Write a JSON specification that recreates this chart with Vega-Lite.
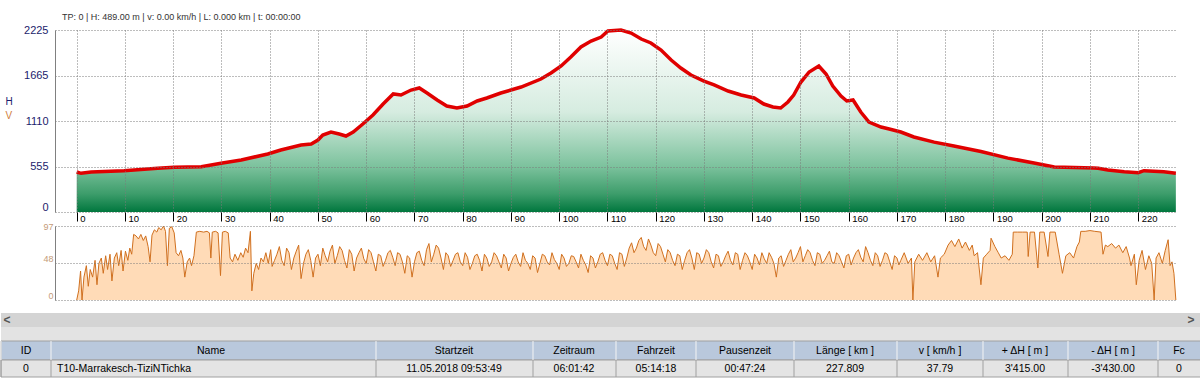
{
  "$schema": "https://vega.github.io/schema/vega-lite/v6.json",
  "background": "white",
  "padding": {"left": 0, "top": 13, "right": 0, "bottom": 0},
  "bounds": "flush",
  "spacing": 14,
  "config": {"view": {"stroke": null}, "font": "Liberation Sans"},
  "datasets": {
    "elev": [
      {"km":0,"h":489},{"km":0.9,"h":473},{"km":3.0,"h":489},{"km":9.8,"h":505},{"km":16.8,"h":534},{"km":20.2,"h":546},{"km":25.8,"h":554},{"km":29.9,"h":595},{"km":34.1,"h":636},{"km":39.6,"h":709},{"km":42.3,"h":758},{"km":46.5,"h":819},{"km":48.6,"h":831},{"km":50.0,"h":880},{"km":51.0,"h":940},{"km":52.7,"h":978},{"km":54.4,"h":954},{"km":55.8,"h":929},{"km":57.3,"h":978},{"km":59.3,"h":1076},{"km":61.4,"h":1186},{"km":63.5,"h":1320},{"km":65.6,"h":1443},{"km":67.2,"h":1430},{"km":69.3,"h":1491},{"km":71.0,"h":1516},{"km":72.6,"h":1455},{"km":74.7,"h":1369},{"km":76.7,"h":1296},{"km":78.8,"h":1271},{"km":80.9,"h":1296},{"km":83.0,"h":1357},{"km":85.0,"h":1394},{"km":87.9,"h":1455},{"km":90.0,"h":1491},{"km":92.1,"h":1528},{"km":96.2,"h":1626},{"km":98.3,"h":1699},{"km":100.4,"h":1785},{"km":102.4,"h":1895},{"km":104.5,"h":2017},{"km":106.6,"h":2090},{"km":108.7,"h":2139},{"km":110.1,"h":2213},{"km":112.8,"h":2225},{"km":114.9,"h":2188},{"km":117.0,"h":2115},{"km":119.0,"h":2066},{"km":121.1,"h":1980},{"km":123.2,"h":1858},{"km":125.2,"h":1760},{"km":127.3,"h":1675},{"km":130.0,"h":1601},{"km":132.1,"h":1553},{"km":135.0,"h":1479},{"km":137.7,"h":1430},{"km":140.4,"h":1394},{"km":142.4,"h":1320},{"km":144.3,"h":1284},{"km":145.9,"h":1271},{"km":147.4,"h":1345},{"km":148.6,"h":1430},{"km":150.1,"h":1589},{"km":151.8,"h":1712},{"km":153.8,"h":1785},{"km":155.3,"h":1687},{"km":156.7,"h":1540},{"km":158.4,"h":1418},{"km":159.6,"h":1357},{"km":160.9,"h":1369},{"km":162.5,"h":1222},{"km":164.2,"h":1100},{"km":166.7,"h":1039},{"km":168.4,"h":1015},{"km":170.8,"h":978},{"km":173.5,"h":917},{"km":177.7,"h":854},{"km":181.8,"h":807},{"km":187.4,"h":740},{"km":193.0,"h":659},{"km":198.4,"h":598},{"km":202.6,"h":550},{"km":210.8,"h":538},{"km":211.7,"h":534},{"km":213.7,"h":513},{"km":217.1,"h":493},{"km":220.0,"h":481},{"km":221.2,"h":505},{"km":225.3,"h":493},{"km":227.8,"h":473}
    ],
    "speed": [
      {"km":0,"v":0},{"km":0.4,"v":12},{"km":0.8,"v":38},{"km":1.1,"v":0},{"km":1.5,"v":30},{"km":2.0,"v":45},{"km":2.4,"v":18},{"km":2.8,"v":40},{"km":3.3,"v":30},{"km":3.8,"v":52},{"km":4.2,"v":20},{"km":4.6,"v":48},{"km":5.1,"v":55},{"km":5.5,"v":35},{"km":6.0,"v":58},{"km":6.4,"v":40},{"km":6.9,"v":60},{"km":7.3,"v":25},{"km":7.8,"v":55},{"km":8.3,"v":62},{"km":8.7,"v":45},{"km":9.2,"v":65},{"km":9.6,"v":38},{"km":10.1,"v":64},{"km":10.6,"v":52},{"km":11.0,"v":68},{"km":11.4,"v":60},{"km":11.8,"v":86},{"km":12.3,"v":84},{"km":12.8,"v":80},{"km":13.3,"v":86},{"km":13.8,"v":78},{"km":14.3,"v":84},{"km":14.8,"v":70},{"km":15.2,"v":50},{"km":15.6,"v":85},{"km":16.1,"v":92},{"km":16.6,"v":89},{"km":17.0,"v":95},{"km":17.5,"v":92},{"km":18.0,"v":97},{"km":18.4,"v":90},{"km":18.8,"v":45},{"km":19.2,"v":94},{"km":19.7,"v":96},{"km":20.2,"v":88},{"km":20.6,"v":62},{"km":21.1,"v":58},{"km":21.6,"v":65},{"km":22.0,"v":55},{"km":22.4,"v":30},{"km":22.9,"v":50},{"km":23.4,"v":55},{"km":23.8,"v":45},{"km":24.3,"v":58},{"km":24.8,"v":89},{"km":25.5,"v":90},{"km":26.3,"v":89},{"km":27.0,"v":90},{"km":27.5,"v":88},{"km":27.8,"v":55},{"km":28.1,"v":89},{"km":28.8,"v":90},{"km":29.3,"v":88},{"km":29.8,"v":32},{"km":30.2,"v":89},{"km":30.8,"v":90},{"km":31.4,"v":88},{"km":31.8,"v":55},{"km":32.3,"v":50},{"km":32.8,"v":60},{"km":33.4,"v":52},{"km":34.0,"v":62},{"km":34.5,"v":56},{"km":35.0,"v":68},{"km":35.5,"v":62},{"km":36.0,"v":90},{"km":36.3,"v":12},{"km":36.7,"v":35},{"km":37.2,"v":48},{"km":37.7,"v":40},{"km":38.2,"v":55},{"km":38.7,"v":50},{"km":39.2,"v":62},{"km":39.7,"v":48},{"km":40.2,"v":66},
      {"km":41,"v":52},{"km":42,"v":70},{"km":43,"v":45},{"km":44,"v":62},{"km":45,"v":55},{"km":46,"v":72},{"km":47,"v":48},{"km":48,"v":66},{"km":49,"v":30},{"km":50,"v":60},{"km":51,"v":68},{"km":52,"v":50},{"km":53,"v":72},{"km":54,"v":58},{"km":55,"v":65},{"km":56,"v":42},{"km":57,"v":60},{"km":58,"v":55},{"km":59,"v":68},{"km":60,"v":48},{"km":61,"v":62},{"km":62,"v":38},{"km":63,"v":58},{"km":64,"v":52},{"km":65,"v":65},{"km":66,"v":45},{"km":67,"v":60},{"km":68,"v":35},{"km":69,"v":55},{"km":70,"v":50},{"km":71,"v":64},{"km":72,"v":45},{"km":73,"v":74},{"km":74,"v":60},{"km":75,"v":68},{"km":76,"v":40},{"km":77,"v":58},{"km":78,"v":52},{"km":79,"v":62},{"km":80,"v":45},{"km":81,"v":56},{"km":82,"v":48},{"km":83,"v":60},{"km":84,"v":38},{"km":85,"v":55},{"km":86,"v":50},{"km":87,"v":58},{"km":88,"v":42},{"km":89,"v":55},{"km":90,"v":48},{"km":91,"v":60},{"km":92,"v":44},{"km":93,"v":52},{"km":94,"v":40},{"km":95,"v":55},{"km":96,"v":48},{"km":97,"v":58},{"km":98,"v":46},{"km":99,"v":53},{"km":100,"v":40},{"km":101,"v":55},{"km":102,"v":48},{"km":103,"v":57},{"km":104,"v":42},{"km":105,"v":52},{"km":106,"v":36},{"km":107,"v":55},{"km":108,"v":50},{"km":109,"v":62},{"km":110,"v":45},{"km":111,"v":58},{"km":112,"v":40},{"km":113,"v":60},{"km":114,"v":55},{"km":115,"v":75},{"km":116,"v":68},{"km":117,"v":82},{"km":118,"v":65},{"km":119,"v":72},{"km":120,"v":58},{"km":121,"v":70},{"km":122,"v":50},{"km":123,"v":62},{"km":124,"v":45},{"km":125,"v":58},{"km":126,"v":52},{"km":127,"v":66},{"km":128,"v":40},{"km":129,"v":60},{"km":130,"v":55},{"km":131,"v":62},{"km":132,"v":42},{"km":133,"v":58},{"km":134,"v":50},{"km":135,"v":64},{"km":136,"v":46},{"km":137,"v":60},{"km":138,"v":52},{"km":139,"v":58},{"km":140,"v":40},{"km":141,"v":55},{"km":142,"v":62},{"km":143,"v":48},{"km":144,"v":56},{"km":145,"v":30},{"km":146,"v":58},{"km":147,"v":52},{"km":148,"v":66},{"km":149,"v":55},{"km":150,"v":70},{"km":151,"v":58},{"km":152,"v":62},{"km":153,"v":45},{"km":154,"v":60},{"km":155,"v":52},{"km":156,"v":64},{"km":157,"v":48},{"km":158,"v":58},{"km":159,"v":42},{"km":160,"v":60},{"km":161,"v":55},{"km":162,"v":66},{"km":163,"v":50},{"km":164,"v":62},{"km":165,"v":45},{"km":166,"v":58},{"km":167,"v":52},{"km":168,"v":60},{"km":169,"v":40},{"km":170,"v":55},
      {"km":40.5,"v":44},{"km":41.5,"v":60},{"km":42.5,"v":52},{"km":43.5,"v":68},{"km":44.5,"v":40},{"km":45.5,"v":64},{"km":46.5,"v":28},{"km":47.5,"v":60},{"km":48.5,"v":52},{"km":49.5,"v":55},{"km":50.5,"v":45},{"km":51.5,"v":58},{"km":52.5,"v":64},{"km":53.5,"v":48},{"km":54.5,"v":70},{"km":55.5,"v":52},{"km":56.5,"v":66},{"km":57.5,"v":38},{"km":58.5,"v":62},{"km":59.5,"v":54},{"km":60.5,"v":66},{"km":61.5,"v":50},{"km":62.5,"v":60},{"km":63.5,"v":44},{"km":64.5,"v":62},{"km":65.5,"v":56},{"km":66.5,"v":62},{"km":67.5,"v":50},{"km":68.5,"v":58},{"km":69.5,"v":30},{"km":70.5,"v":62},{"km":71.5,"v":52},{"km":72.5,"v":66},{"km":73.5,"v":50},{"km":74.5,"v":72},{"km":75.5,"v":55},{"km":76.5,"v":62},{"km":77.5,"v":44},{"km":78.5,"v":60},{"km":79.5,"v":50},{"km":80.5,"v":62},{"km":81.5,"v":40},{"km":82.5,"v":58},{"km":83.5,"v":52},{"km":84.5,"v":60},{"km":85.5,"v":44},{"km":86.5,"v":62},{"km":87.5,"v":50},{"km":88.5,"v":60},{"km":89.5,"v":38},{"km":90.5,"v":56},{"km":91.5,"v":50},{"km":92.5,"v":62},{"km":93.5,"v":48},{"km":94.5,"v":58},{"km":95.5,"v":36},{"km":96.5,"v":60},{"km":97.5,"v":50},{"km":98.5,"v":62},{"km":99.5,"v":48},{"km":100.5,"v":60},{"km":101.5,"v":44},{"km":102.5,"v":58},{"km":103.5,"v":50},{"km":104.5,"v":60},{"km":105.5,"v":46},{"km":106.5,"v":58},{"km":107.5,"v":42},{"km":108.5,"v":60},{"km":109.5,"v":52},{"km":110.5,"v":60},{"km":111.5,"v":48},{"km":112.5,"v":62},{"km":113.5,"v":44},{"km":114.5,"v":68},{"km":115.5,"v":62},{"km":116.5,"v":78},{"km":117.5,"v":70},{"km":118.5,"v":80},{"km":119.5,"v":62},{"km":120.5,"v":74},{"km":121.5,"v":60},{"km":122.5,"v":66},{"km":123.5,"v":52},{"km":124.5,"v":60},{"km":125.5,"v":40},{"km":126.5,"v":62},{"km":127.5,"v":55},{"km":128.5,"v":62},{"km":129.5,"v":48},{"km":130.5,"v":66},{"km":131.5,"v":50},{"km":132.5,"v":60},{"km":133.5,"v":44},{"km":134.5,"v":58},{"km":135.5,"v":52},{"km":136.5,"v":62},{"km":137.5,"v":40},{"km":138.5,"v":62},{"km":139.5,"v":50},{"km":140.5,"v":60},{"km":141.5,"v":46},{"km":142.5,"v":54},{"km":143.5,"v":62},{"km":144.5,"v":48},{"km":145.5,"v":55},{"km":146.5,"v":44},{"km":147.5,"v":60},{"km":148.5,"v":50},{"km":149.5,"v":62},{"km":150.5,"v":50},{"km":151.5,"v":66},{"km":152.5,"v":52},{"km":153.5,"v":62},{"km":154.5,"v":48},{"km":155.5,"v":58},{"km":156.5,"v":50},{"km":157.5,"v":62},{"km":158.5,"v":50},{"km":159.5,"v":58},{"km":160.5,"v":46},{"km":161.5,"v":62},{"km":162.5,"v":56},{"km":163.5,"v":70},{"km":164.5,"v":52},{"km":165.5,"v":62},{"km":166.5,"v":44},{"km":167.5,"v":62},{"km":168.5,"v":50},{"km":169.5,"v":58},{"km":170.4,"v":46},
      {"km":170.8,"v":52},{"km":171.5,"v":62},{"km":172.3,"v":48},{"km":173.0,"v":55},{"km":173.3,"v":0},{"km":173.7,"v":50},{"km":174.5,"v":60},{"km":175.3,"v":52},{"km":176.2,"v":62},{"km":177.0,"v":50},{"km":177.8,"v":58},{"km":178.5,"v":30},{"km":179.0,"v":55},{"km":179.8,"v":60},{"km":180.6,"v":72},{"km":181.3,"v":78},{"km":182.0,"v":70},{"km":182.8,"v":80},{"km":183.5,"v":68},{"km":184.2,"v":76},{"km":185.0,"v":65},{"km":185.6,"v":72},{"km":186.0,"v":58},{"km":186.7,"v":62},{"km":187.4,"v":20},{"km":187.9,"v":55},{"km":188.6,"v":60},{"km":189.3,"v":65},{"km":189.5,"v":81},{"km":190.3,"v":70},{"km":191.0,"v":62},{"km":191.6,"v":55},{"km":192.4,"v":58},{"km":193.2,"v":52},{"km":193.9,"v":60},{"km":194.1,"v":89},{"km":195.0,"v":89},{"km":196.0,"v":89},{"km":197.0,"v":89},{"km":197.2,"v":57},{"km":197.6,"v":89},{"km":198.5,"v":89},{"km":199.2,"v":42},{"km":199.6,"v":89},{"km":200.5,"v":89},{"km":201.3,"v":57},{"km":201.7,"v":89},{"km":202.8,"v":89},{"km":203.6,"v":60},{"km":204.3,"v":35},{"km":205.0,"v":58},{"km":205.8,"v":62},{"km":206.6,"v":55},{"km":207.3,"v":70},{"km":207.8,"v":76},{"km":208.1,"v":90},{"km":209,"v":90},{"km":210,"v":91},{"km":211,"v":90},{"km":212.3,"v":89},{"km":212.7,"v":60},{"km":213.2,"v":72},{"km":213.7,"v":70},{"km":214.5,"v":74},{"km":215.3,"v":68},{"km":216,"v":72},{"km":216.8,"v":62},{"km":217.5,"v":70},{"km":218.2,"v":55},{"km":218.5,"v":45},{"km":219.2,"v":60},{"km":219.6,"v":20},{"km":220.2,"v":52},{"km":220.8,"v":65},{"km":221.5,"v":40},{"km":222.2,"v":58},{"km":222.8,"v":48},{"km":223.3,"v":0},{"km":223.7,"v":55},{"km":224.3,"v":62},{"km":225,"v":48},{"km":225.6,"v":65},{"km":226.2,"v":79},{"km":226.6,"v":45},{"km":227.0,"v":50},{"km":227.4,"v":35},{"km":227.8,"v":0}
    ],
    "cols": [
      {"c":0,"head":"ID","val":"0"},
      {"c":1,"head":"Name","val":"T10-Marrakesch-TiziNTichka"},
      {"c":2,"head":"Startzeit","val":"11.05.2018 09:53:49"},
      {"c":3,"head":"Zeitraum","val":"06:01:42"},
      {"c":4,"head":"Fahrzeit","val":"05:14:18"},
      {"c":5,"head":"Pausenzeit","val":"00:47:24"},
      {"c":6,"head":"Länge  [ km ]","val":"227.809"},
      {"c":7,"head":"v  [ km/h ]","val":"37.79"},
      {"c":8,"head":"+ ΔH  [ m ]","val":"3'415.00"},
      {"c":9,"head":"- ΔH  [ m ]","val":"-3'430.00"},
      {"c":10,"head":"Fc","val":"0"}
    ],
    "arrows": [{"p":0,"a":"<"},{"p":1,"a":">"}]
  },
  "vconcat": [
    {
      "width": 1121,
      "height": 182,
      "title": {"text": "TP: 0 | H: 489.00 m | v: 0.00 km/h | L: 0.000 km | t: 00:00:00", "anchor": "start", "frame": "group", "dx": 7, "offset": -6, "baseline": "alphabetic", "fontSize": 9, "fontWeight": "normal", "color": "#333333", "font": "Liberation Sans"},
      "data": {"name": "elev"},
      "encoding": {
        "x": {"field": "km", "type": "quantitative", "scale": {"domain": [-4.5, 227.83], "nice": false, "zero": false},
          "axis": {"values": [0,10,20,30,40,50,60,70,80,90,100,110,120,130,140,150,160,170,180,190,200,210,220], "grid": true, "gridDash": [1,2], "gridColor": "#7a7a7a", "domain": false, "tickColor": "#000000", "tickSize": 9, "labelAlign": "left", "labelBaseline": "top", "labelPadding": -8, "labelOffset": 3, "labelFontSize": 9.5, "labelColor": "#000000", "labelFlush": false, "labelOverlap": false, "title": null, "zindex": 1}},
        "y": {"field": "h", "type": "quantitative", "scale": {"domain": [0, 2225], "nice": false},
          "axis": {"values": [0,555,1110,1665,2225], "format": "d", "grid": true, "gridDash": [1,2], "gridColor": "#7a7a7a", "domainColor": "#808080", "ticks": false, "labelPadding": 7, "labelColor": "#1c1c6c", "labelFontSize": 11, "labelBaseline": {"condition": {"test": "datum.value == 0", "value": "bottom"}, "value": "middle"}, "title": "H", "titleAngle": 0, "titleAlign": "left", "titleBaseline": "middle", "titleX": -50, "titleY": 71, "titleColor": "#1c1c6c", "titleFontSize": 10, "titleFontWeight": "normal", "zindex": 1}}
      },
      "layer": [
        {"mark": {"type": "area", "color": {"x1": 0, "y1": 0, "x2": 0, "y2": 1, "gradient": "linear", "stops": [{"offset": 0, "color": "#ffffff"}, {"offset": 0.45, "color": "#d6ece0"}, {"offset": 0.75, "color": "#7cc29d"}, {"offset": 0.9, "color": "#3d9d6b"}, {"offset": 1, "color": "#00773e"}]}}},
        {"mark": {"type": "line", "color": "#e00000", "strokeWidth": 3.5}}
      ]
    },
    {
      "width": 1121,
      "height": 74,
      "data": {"name": "speed"},
      "mark": {"type": "area", "color": "#ffcc99", "line": {"color": "#d0701f", "strokeWidth": 1}},
      "encoding": {
        "x": {"field": "km", "type": "quantitative", "scale": {"domain": [-4.5, 227.83], "nice": false, "zero": false}, "axis": null},
        "y": {"field": "v", "type": "quantitative", "scale": {"domain": [0, 97], "nice": false},
          "axis": {"values": [0,48,97], "grid": true, "gridDash": [1,2], "gridColor": "#7a7a7a", "domainColor": "#808080", "ticks": false, "labelPadding": 2, "labelColor": "#c49a78", "labelFontSize": 9, "labelBaseline": {"condition": {"test": "datum.value == 97", "value": "middle"}, "value": "bottom"}, "title": "V", "titleAngle": 0, "titleAlign": "left", "titleBaseline": "middle", "titleX": -50, "titleY": -111, "titleColor": "#d08040", "titleFontSize": 10, "titleFontWeight": "normal", "zindex": 1}}
      }
    },
    {
      "width": 1121,
      "height": 64,
      "resolve": {"scale": {"x": "independent"}},
      "layer": [
        {
          "data": {"values": [{}]},
          "mark": {"type": "rect", "color": "#d4d4d4"},
          "encoding": {
            "x": {"datum": 0, "type": "quantitative", "scale": {"domain": [0,1,2,3,4,5,6,7,8,9,10,11], "range": [-54,-4,321,478,561,641,739,842,928,1013,1103,1146]}, "axis": null},
            "x2": {"datum": 11},
            "y": {"datum": 0, "type": "quantitative", "scale": {"domain": [0,1,2,3,4], "range": [-1,13,27,46,63]}, "axis": null},
            "y2": {"datum": 1}
          }
        },
        {
          "data": {"values": [{}]},
          "mark": {"type": "rect", "color": "#e3e3e3"},
          "encoding": {
            "x": {"datum": 0, "type": "quantitative", "scale": {"domain": [0,1,2,3,4,5,6,7,8,9,10,11], "range": [-54,-4,321,478,561,641,739,842,928,1013,1103,1146]}, "axis": null},
            "x2": {"datum": 11},
            "y": {"datum": 1, "type": "quantitative", "axis": null},
            "y2": {"datum": 2}
          }
        },
        {
          "data": {"values": [{}]},
          "mark": {"type": "rect", "fill": "#b9c8dc", "stroke": "#a0a0a0", "strokeWidth": 1},
          "encoding": {
            "x": {"datum": 0, "type": "quantitative", "scale": {"domain": [0,1,2,3,4,5,6,7,8,9,10,11], "range": [-54,-4,321,478,561,641,739,842,928,1013,1103,1146]}, "axis": null},
            "x2": {"datum": 11},
            "y": {"datum": 2, "type": "quantitative", "axis": null},
            "y2": {"datum": 3}
          }
        },
        {
          "data": {"values": [{}]},
          "mark": {"type": "rect", "fill": "#e4e4e4", "stroke": "#a0a0a0", "strokeWidth": 1},
          "encoding": {
            "x": {"datum": 0, "type": "quantitative", "scale": {"domain": [0,1,2,3,4,5,6,7,8,9,10,11], "range": [-54,-4,321,478,561,641,739,842,928,1013,1103,1146]}, "axis": null},
            "x2": {"datum": 11},
            "y": {"datum": 3, "type": "quantitative", "axis": null},
            "y2": {"datum": 4}
          }
        },
        {
          "data": {"name": "cols"},
          "mark": {"type": "rule", "color": "#f4f4f4", "strokeWidth": 1},
          "encoding": {
            "x": {"field": "c", "type": "quantitative", "scale": {"domain": [0,1,2,3,4,5,6,7,8,9,10,11], "range": [-54,-4,321,478,561,641,739,842,928,1013,1103,1146]}, "axis": null},
            "y": {"datum": 2, "type": "quantitative", "axis": null},
            "y2": {"datum": 3}
          }
        },
        {
          "data": {"name": "cols"},
          "mark": {"type": "rule", "color": "#a0a0a0", "strokeWidth": 1},
          "encoding": {
            "x": {"field": "c", "type": "quantitative", "scale": {"domain": [0,1,2,3,4,5,6,7,8,9,10,11], "range": [-54,-4,321,478,561,641,739,842,928,1013,1103,1146]}, "axis": null},
            "y": {"datum": 3, "type": "quantitative", "axis": null},
            "y2": {"datum": 4}
          }
        },
        {
          "data": {"name": "cols"},
          "mark": {"type": "text", "fontSize": 10.5, "color": "#000000", "align": "center", "baseline": "middle"},
          "encoding": {
            "x": {"field": "c", "type": "quantitative", "scale": {"domain": [0,1,2,3,4,5,6,7,8,9,10], "range": [-29,156,399,519,601,690,790,885,970,1058,1124]}, "axis": null},
            "y": {"datum": 2.5, "type": "quantitative", "axis": null},
            "text": {"field": "head"}
          }
        },
        {
          "data": {"name": "cols"},
          "transform": [{"filter": "datum.c != 1"}],
          "mark": {"type": "text", "fontSize": 10.5, "color": "#000000", "align": "center", "baseline": "middle"},
          "encoding": {
            "x": {"field": "c", "type": "quantitative", "scale": {"domain": [0,1,2,3,4,5,6,7,8,9,10], "range": [-29,156,399,519,601,690,790,885,970,1058,1124]}, "axis": null},
            "y": {"datum": 3.5, "type": "quantitative", "axis": null},
            "text": {"field": "val"}
          }
        },
        {
          "data": {"name": "cols"},
          "transform": [{"filter": "datum.c == 1"}],
          "mark": {"type": "text", "fontSize": 10.5, "color": "#000000", "align": "left", "baseline": "middle", "dx": 6},
          "encoding": {
            "x": {"field": "c", "type": "quantitative", "scale": {"domain": [0,1,2,3,4,5,6,7,8,9,10,11], "range": [-54,-4,321,478,561,641,739,842,928,1013,1103,1146]}, "axis": null},
            "y": {"datum": 3.5, "type": "quantitative", "axis": null},
            "text": {"field": "val"}
          }
        },
        {
          "data": {"name": "arrows"},
          "mark": {"type": "text", "fontSize": 12, "fontWeight": "bold", "color": "#555555", "align": "center", "baseline": "middle"},
          "encoding": {
            "x": {"field": "p", "type": "quantitative", "scale": {"domain": [0,1], "range": [-48,1136]}, "axis": null},
            "y": {"datum": 0.5, "type": "quantitative", "axis": null},
            "text": {"field": "a"}
          }
        }
      ]
    }
  ]
}
